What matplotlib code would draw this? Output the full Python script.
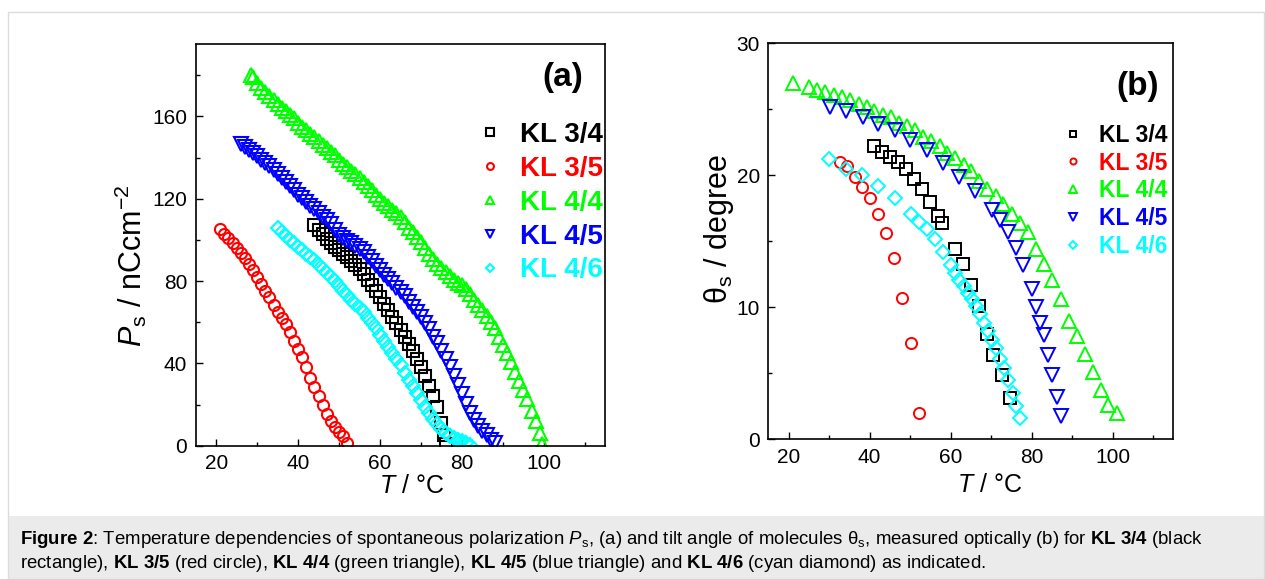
import numpy as np
import matplotlib.pyplot as plt
from matplotlib.ticker import MultipleLocator
from matplotlib.patches import Rectangle

plt.rcParams['font.family'] = ['Liberation Sans', 'DejaVu Sans']
plt.rcParams['mathtext.fontset'] = 'custom'
plt.rcParams['mathtext.rm'] = 'Liberation Sans'
plt.rcParams['mathtext.it'] = 'Liberation Sans:italic'
plt.rcParams['mathtext.bf'] = 'Liberation Sans:bold'

# ---- panel (a): spontaneous polarization Ps (nC/cm2) vs T (C)
t34a = [44, 45, 46, 47, 48, 49, 50, 51, 52, 53, 54, 55, 56, 57, 58, 59, 60,
        61, 62, 63, 64, 65, 66, 67, 68, 69, 70, 71, 72, 73, 74, 75, 75.5, 76]
p34a = [107, 105, 103, 100.5, 98.5, 96.5, 95, 93, 91.5, 89.5, 88, 86, 83.5,
        80.5, 78, 75, 72, 69, 66, 62.5, 59.5, 56, 53, 49.5, 46, 42, 38, 34,
        29, 24, 19, 11, 5, 1]

t35a = [21, 22, 23, 24, 25, 26, 27, 28, 29, 30, 31, 32, 33, 34, 35, 36, 37,
        38, 39, 40, 41, 42, 43, 44, 45, 46, 47, 48, 49, 50, 51, 52]
p35a = [105.5, 103, 101, 98.5, 96, 93.5, 91, 88.5, 85.5, 82, 78.5, 75, 72,
        68.5, 65, 62, 59, 55, 51, 47, 43, 38, 33, 28.5, 24, 20, 15.5, 12, 9,
        6.5, 4.5, 1.5]

t44a = [28.5, 29, 30, 31, 32, 33, 34, 35, 36, 37, 38, 39, 40, 41, 42, 43, 44,
        45, 46, 47, 48, 49, 50, 51, 52, 53, 54, 55, 56, 57, 58, 59, 60, 61,
        62, 63, 64, 65, 66, 67, 68, 69, 70, 71, 72, 73, 74, 75, 76, 77, 78,
        79, 80, 81, 82, 83, 84, 85, 86, 87, 88, 89, 90, 91, 92, 93, 94, 95,
        96, 97, 98, 99, 99.5]
p44a = [180, 179, 176, 174, 172, 170, 168, 166, 164, 162.5, 160.5, 159, 157,
        155, 153.5, 151.5, 150, 148, 146, 144.5, 142.5, 141, 139, 137, 135.5,
        133.5, 132, 130, 128, 126, 124, 122, 120, 118, 116.5, 114.5, 113, 111,
        108.5, 106, 104, 101.5, 99, 96, 93, 90.5, 88.5, 86.5, 84.5, 82.5,
        80.5, 79, 78, 76, 73.5, 71, 68.5, 66, 63, 60, 57, 53, 49, 45, 40.5,
        36, 31.5, 27, 22.5, 17, 12, 6, 1]

t45a = [26, 27, 28, 29, 30, 31, 32, 33, 34, 35, 36, 37, 38, 39, 40, 41, 42,
        43, 44, 45, 46, 47, 48, 49, 50, 51, 52, 53, 54, 55, 56, 57, 58, 59,
        60, 61, 62, 63, 64, 65, 66, 67, 68, 69, 70, 71, 72, 73, 74, 75, 76,
        77, 78, 79, 80, 81, 82, 83, 84, 85, 86, 87, 88]
p45a = [146.5, 145, 143.5, 142, 140.5, 139, 137.5, 136, 134, 132, 130, 128,
        126, 124, 122, 120.5, 118.5, 116.5, 115, 113, 111, 109.5, 107.5, 105,
        102.5, 101, 99.5, 98.5, 97, 95.5, 94, 91.5, 89.5, 87.5, 85.5, 83, 81,
        79, 76.5, 74.5, 72.5, 70, 67.5, 65, 62.5, 59.5, 56.5, 53, 50, 46, 42,
        38, 34, 29.5, 25, 20.5, 16, 12.5, 9.5, 7, 5, 3, 1.5]

t46a = [35, 36, 37, 38, 39, 40, 41, 42, 43, 44, 45, 46, 47, 48, 49, 50, 51,
        52, 53, 54, 55, 56, 57, 58, 59, 60, 61, 62, 63, 64, 65, 66, 67, 68,
        69, 70, 71, 72, 73, 74, 75, 76, 77, 78, 79, 80, 81, 82]
p46a = [106, 104, 102, 100, 98.5, 96.5, 95, 93, 91.5, 90, 88, 86, 84, 82, 80,
        77.5, 75, 73, 71, 69, 67, 65, 62, 59.5, 57, 54, 51, 48, 45, 42, 39,
        35.5, 32, 29, 25.5, 22, 19, 16, 13, 10.5, 8, 6, 4.5, 3.5, 3, 2.5, 1.5,
        0.5]

# ---- panel (b): tilt angle theta_s (degree) vs T (C)
t34b = [41, 43, 45, 47, 49, 51, 53, 55, 57, 58, 61, 63, 65, 67, 69, 70.6,
        72.6, 74.7]
th34b = [22.2, 21.8, 21.4, 21.0, 20.5, 19.7, 19.0, 18.0, 16.9, 16.4, 14.4,
         13.3, 11.7, 10.1, 8.0, 6.4, 4.9, 3.1]

t35b = [32.6, 34.4, 36.3, 38.1, 40.1, 42.2, 44.1, 46.1, 48.1, 50.2, 52.1]
th35b = [21.0, 20.7, 19.9, 19.1, 18.3, 17.1, 15.6, 13.7, 10.7, 7.3, 2.0]

t44b = [21.1, 25.0, 27.0, 29.0, 31.1, 33.2, 35.2, 37.3, 39.3, 41.1, 43.2,
        45.2, 47.3, 49.2, 51.2, 53.3, 55.2, 57.3, 59.2, 61.2, 63.2, 65.1,
        67.1, 69.1, 71.1, 73.0, 75.1, 77.2, 79.2, 81.1, 83.1, 85.1, 87.2,
        89.2, 91.1, 93.2, 95.1, 97.1, 98.9, 101.0]
th44b = [27.0, 26.7, 26.5, 26.3, 26.1, 25.9, 25.7, 25.4, 25.2, 24.9, 24.6,
         24.4, 24.0, 23.7, 23.4, 22.9, 22.6, 22.2, 21.7, 21.3, 20.8, 20.3,
         19.6, 19.0, 18.4, 17.8, 17.1, 16.4, 15.7, 14.4, 13.3, 12.1, 10.6,
         9.0, 7.8, 6.5, 5.1, 3.7, 2.6, 2.0]

t45b = [30.3, 34.1, 38.3, 42.2, 46.2, 50.0, 54.1, 58.1, 62.1, 66.1, 70.2,
        72.2, 74.1, 76.2, 78.0, 80.0, 81.1, 82.1, 83.1, 84.1, 85.1, 86.2, 87.2]
th45b = [25.2, 24.9, 24.4, 23.9, 23.4, 22.7, 21.9, 20.9, 19.9, 18.8, 17.4,
         16.6, 15.7, 14.5, 13.2, 11.4, 10.0, 8.8, 7.9, 6.4, 4.9, 3.2, 1.8]

t46b = [30.1, 34.1, 38.1, 42.2, 46.3, 50.2, 52.1, 54.1, 56.2, 58.1, 60.0,
        61.2, 62.2, 63.2, 64.2, 65.2, 66.3, 67.3, 68.3, 69.3, 70.3, 71.2,
        72.2, 73.2, 74.3, 75.3, 76.2, 77.2]
th46b = [21.2, 20.5, 20.0, 19.2, 18.3, 17.1, 16.5, 15.9, 15.2, 14.2, 13.2,
         12.6, 12.1, 11.6, 11.1, 10.6, 10.1, 9.5, 8.8, 8.2, 7.5, 6.9, 6.1,
         5.4, 4.5, 3.5, 2.5, 1.6]

labels = ['KL 3/4', 'KL 3/5', 'KL 4/4', 'KL 4/5', 'KL 4/6']
colors = ['#000000', '#ff0000', '#00ff00', '#0000ff', '#00ffff']
markers = ['s', 'o', '^', 'v', 'D']

W, H = 1265, 579


def style_axes(ax, ylim, ymaj, ymin):
    ax.set_xlim(15, 115)
    ax.set_ylim(*ylim)
    ax.xaxis.set_major_locator(MultipleLocator(20))
    ax.xaxis.set_minor_locator(MultipleLocator(10))
    ax.yaxis.set_major_locator(MultipleLocator(ymaj))
    ax.yaxis.set_minor_locator(MultipleLocator(ymin))
    ax.tick_params(which='both', direction='in', top=False, right=False,
                   width=1, labelsize=15, pad=6)
    ax.tick_params(which='major', length=5)
    ax.tick_params(which='minor', length=3)
    for s in ax.spines.values():
        s.set_linewidth(1.2)


fig = plt.figure(figsize=(W / 100, H / 100), dpi=100)
fig.patches.append(Rectangle((8 / W, 0), 1, 63 / H, transform=fig.transFigure,
                             fc='#ebebeb', ec='none', zorder=0))
fig.patches.append(Rectangle((8 / W, 0), (W - 9) / W, (H - 12) / H,
                             transform=fig.transFigure, fill=False,
                             ec='#dcdcdc', lw=1, zorder=0))

# panel (a)
ax1 = fig.add_axes([195.7 / W, (H - 445.7) / H, 409.6 / W, 401.4 / H])
sizes_a = [8.5, 8, 10, 10, 7.2]
data_a = [(t34a, p34a), (t35a, p35a), (t44a, p44a), (t45a, p45a), (t46a, p46a)]
for (t, p), lab, c, m, ms in zip(data_a, labels, colors, markers, sizes_a):
    ax1.plot(t, p, ls='none', marker=m, ms=ms, mfc='none', mec=c, mew=1.5,
             label=lab)
style_axes(ax1, (0, 195), 40, 20)
ax1.set_xlabel('$T$ / °C', fontsize=18)
ax1.set_ylabel('$P$$_\\mathrm{s}$ / nCcm$^{-2}$', fontsize=22)
ax1.xaxis.set_label_coords(0.528, -0.07)
ax1.yaxis.set_label_coords(-0.115, 0.45)
ax1.text(0.897, 0.918, '(a)', transform=ax1.transAxes, fontsize=24,
         fontweight='bold', ha='center', va='center')
leg1 = ax1.legend(loc='upper right', bbox_to_anchor=(0.995, 0.806),
                  frameon=False, borderpad=0, borderaxespad=0, numpoints=1,
                  markerscale=0.62, handlelength=1.0, handletextpad=0.58,
                  labelspacing=0.28, prop={'weight': 'bold', 'size': 20},
                  labelcolor=colors)

# panel (b)
ax2 = fig.add_axes([768.3 / W, (H - 439.3) / H, 405 / W, 396 / H])
sizes_b = [8.5, 8, 10, 10, 7.2]
data_b = [(t34b, th34b), (t35b, th35b), (t44b, th44b), (t45b, th45b),
          (t46b, th46b)]
for (t, th), lab, c, m, ms in zip(data_b, labels, colors, markers, sizes_b):
    ax2.plot(t, th, ls='none', marker=m, ms=ms, mfc='none', mec=c, mew=1.4,
             label=lab)
style_axes(ax2, (0, 30), 10, 5)
ax2.set_xlabel('$T$ / °C', fontsize=18)
ax2.set_ylabel('θ$_\\mathrm{s}$ / degree', fontsize=22)
ax2.xaxis.set_label_coords(0.547, -0.085)
ax2.yaxis.set_label_coords(-0.08, 0.53)
ax2.text(0.913, 0.89, '(b)', transform=ax2.transAxes, fontsize=24,
         fontweight='bold', ha='center', va='center')
leg2 = ax2.legend(loc='upper right', bbox_to_anchor=(0.985, 0.797),
                  frameon=False, borderpad=0, borderaxespad=0, numpoints=1,
                  markerscale=0.55, handlelength=1.0, handletextpad=0.63,
                  labelspacing=0.21, prop={'weight': 'bold', 'size': 16.5},
                  labelcolor=colors)

# caption
line1 = (r'$\mathbf{Figure\ 2}$: Temperature dependencies of spontaneous '
         r'polarization $P$$_\mathrm{s}$, (a) and tilt angle of molecules '
         r'θ$_\mathrm{s}$, measured optically (b) for $\mathbf{KL\ 3/4}$ (black')
line2 = (r'rectangle), $\mathbf{KL\ 3/5}$ (red circle), $\mathbf{KL\ 4/4}$ '
         r'(green triangle), $\mathbf{KL\ 4/5}$ (blue triangle) and '
         r'$\mathbf{KL\ 4/6}$ (cyan diamond) as indicated.')
fig.text(20 / W, 1 - 540 / H, line1, fontsize=13.4, va='center', ha='left')
fig.text(20 / W, 1 - 563 / H, line2, fontsize=13.4, va='center', ha='left')

plt.savefig('out.png', dpi=100)
